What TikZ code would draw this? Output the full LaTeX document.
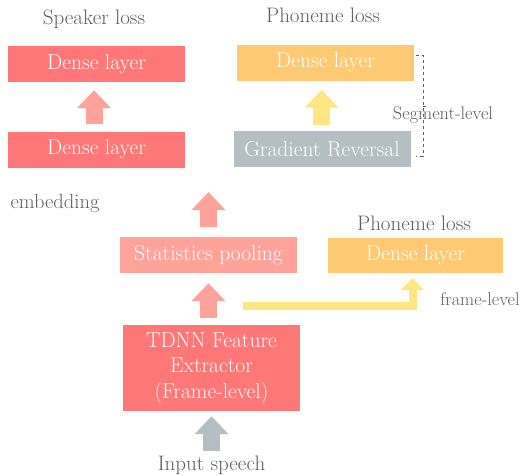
\documentclass[tikz,border=0pt]{standalone}
\usetikzlibrary{arrows.meta}
\definecolor{denseRed}{HTML}{FF7777}
\definecolor{poolPink}{HTML}{FFA39A}
\definecolor{phoneOrange}{HTML}{FDC972}
\definecolor{revGray}{HTML}{B3BFC2}
\definecolor{linkYellow}{HTML}{FFE680}
\definecolor{noteGray}{HTML}{5E5E5E}
\begin{document}
\begin{tikzpicture}[x=1pt,y=-1pt,
		layer/.style={fill=#1,text=white,minimum width=177pt,minimum height=36pt,inner sep=0pt,font=\fontsize{21.5}{25}\selectfont},
		lossname/.style={text=noteGray,anchor=base,font=\fontsize{21}{24}\selectfont},
		note/.style={text=noteGray,anchor=base,font=\fontsize{18.3}{22}\selectfont},
		fat/.style={draw=#1,line width=17pt,-{Triangle[width=33pt,length=18pt]}}]
	\useasboundingbox (0,0) rectangle (525,475);
	% speaker branch
	\node[layer=denseRed] (spkout) at (96.5,64) {Dense layer};
	\node[layer=denseRed] (spkemb) at (96.5,149.5) {Dense layer};
	\node[lossname] (spkloss) at (94,24) {Speaker loss};
	\node[note,font=\fontsize{20.5}{24}\selectfont] (emb) at (55,208) {embedding};
	% adversarial phoneme branch
	\node[layer=phoneOrange] (phnout) at (325.5,62.5) {Dense layer};
	\node[layer=revGray] (grl) at (322,149) {Gradient Reversal};
	\node[lossname] (phnloss) at (323,22) {Phoneme loss};
	% shared trunk
	\node[layer=poolPink] (pool) at (208.5,255) {Statistics pooling};
	\node[layer=denseRed,minimum height=86pt,align=center,font=\fontsize{21.5}{25.5}\selectfont] (tdnn) at (211.5,368) {TDNN Feature\\Extractor\\(Frame-level)};
	\node[lossname] (input) at (211.5,470) {Input speech};
	% frame-level phoneme branch
	\node[layer=phoneOrange,minimum width=175pt,minimum height=35pt] (phnframe) at (415.5,255.5) {Dense layer};
	\node[lossname] (frmloss) at (414,230) {Phoneme loss};
	\node[note] (frmnote) at (480,305) {frame-level};
	% block arrows
	\coordinate (embtop) at (208.5,192);
	\coordinate (inputtop) at (211.5,451);
	\coordinate (frmstart) at (243,306);
	\draw[fat=poolPink,shorten <=7pt,shorten >=8pt] (spkemb.north -| 94,0) -- (spkout.south -| 94,0);
	\draw[fat=linkYellow,shorten <=6pt,shorten >=9pt] (grl.north -| 321.5,0) -- (phnout.south -| 321.5,0);
	\draw[fat=poolPink,shorten <=10pt] (pool.north) -- (embtop);
	\draw[fat=poolPink,shorten <=7pt,shorten >=10pt] (tdnn.north -| pool.north) -- (pool.south);
	\draw[fat=revGray,shorten >=5pt] (inputtop) -- (tdnn.south);
	\draw[draw=linkYellow,line width=8pt,-{Triangle[width=23pt,length=12pt]},shorten >=5pt] (frmstart) -| (phnframe.south -| 412.5,0);
	% segment-level bracket
	\draw[noteGray,dashed,line width=0.8pt] (416,55) -- (423,55) -- (423,156) -- (416,156) (423,106) -- (428,106);
	\node[note] (segnote) at (443,119) {Segment-level};
\end{tikzpicture}
\end{document}
